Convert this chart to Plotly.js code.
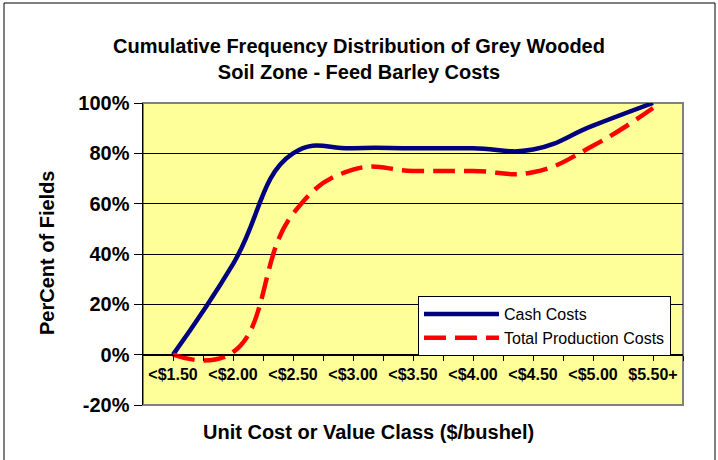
<!DOCTYPE html>
<html>
<head>
<meta charset="utf-8">
<script src="https://cdn.plot.ly/plotly-3.0.1.min.js"></script>
<style>
  html, body { margin: 0; padding: 0; background: #ffffff; }
  #chart { width: 718px; height: 460px; }
</style>
</head>
<body>
<div id="chart"></div>
<script>
// ---- data ----
const categories = ["<$1.50", "<$2.00", "<$2.50", "<$3.00", "<$3.50", "<$4.00", "<$4.50", "<$5.00", "$5.50+"];
const cashCosts = [0, 36, 80, 82, 82, 82, 81.5, 91, 100];
const totalProductionCosts = [0, 1, 56, 73.5, 73, 73, 72.5, 83, 98];
const seriesNames = ["Cash Costs", "Total Production Costs"];
const yTickValues = [-20, 0, 20, 40, 60, 80, 100];

const FONT = "Arial, 'Liberation Sans', sans-serif";
const xIdx = categories.map((_, i) => i);

// tick marks every half category; labels only on the categories
const xTickVals = [];
const xTickText = [];
for (let i = 0; i < categories.length; i++) {
  xTickVals.push(i);
  xTickText.push("<b>" + categories[i] + "</b>");
  if (i < categories.length - 1) { xTickVals.push(i + 0.5); xTickText.push(""); }
}
xTickVals.push(categories.length - 0.5); xTickText.push("");

const traces = [
  {
    x: xIdx, y: cashCosts, name: seriesNames[0], type: "scatter", mode: "lines",
    line: { color: "#000080", width: 4.5, shape: "spline", smoothing: 1.3 }
  },
  {
    x: xIdx, y: totalProductionCosts, name: seriesNames[1], type: "scatter", mode: "lines",
    line: { color: "#FF0000", width: 4.5, shape: "spline", smoothing: 1.3, dash: "22px,9px" }
  }
];

const L = 143, R = 35, T = 103, B = 55;
const PW = 718 - L - R, PH = 460 - T - B;
const px = v => (v - L) / PW;
const py = v => (460 - B - v) / PH;

const layout = {
  width: 718, height: 460,
  margin: { l: L, r: R, t: T, b: B, pad: 0 },
  paper_bgcolor: "#ffffff",
  plot_bgcolor: "#FFFF99",
  font: { family: FONT, color: "#000000" },
  showlegend: true,
  title: {
    text: "<b>Cumulative Frequency Distribution of Grey Wooded<br>Soil Zone - Feed Barley Costs</b>",
    font: { family: FONT, size: 20, color: "#000000" },
    x: 0.5, xref: "container", xanchor: "center",
    y: 1 - 53 / 460, yref: "container", yanchor: "top"
  },
  xaxis: {
    type: "linear",
    range: [-0.5, categories.length - 0.5],
    anchor: "free",
    position: (0 - (-20)) / 120,
    tickmode: "array", tickvals: xTickVals, ticktext: xTickText,
    ticks: "outside", ticklen: 5, tickcolor: "#000000", tickwidth: 1,
    tickfont: { family: FONT, size: 16, color: "#000000" },
    showline: true, linecolor: "#000000", linewidth: 1,
    showgrid: false, zeroline: false, fixedrange: true
  },
  yaxis: {
    range: [-20, 100],
    tickmode: "array", tickvals: yTickValues,
    ticktext: yTickValues.map(v => "<b>" + v + "%</b>"),
    ticks: "outside", ticklen: 8, tickcolor: "#000000", tickwidth: 1,
    tickfont: { family: FONT, size: 20, color: "#000000" },
    showline: true, linecolor: "#000000", linewidth: 1.5,
    showgrid: true, gridcolor: "#000000", gridwidth: 1,
    zeroline: false, fixedrange: true
  },
  legend: {
    x: px(418), y: py(296), xanchor: "left", yanchor: "top",
    bgcolor: "#ffffff", bordercolor: "#000000", borderwidth: 1,
    font: { family: FONT, size: 16, color: "#000000" },
    itemwidth: 75,
    tracegroupgap: 0
  },
  annotations: [
    {
      text: "<b>Unit Cost or Value Class ($/bushel)</b>",
      xref: "paper", yref: "paper", x: px(368), y: py(432),
      xanchor: "center", yanchor: "middle", showarrow: false,
      font: { family: FONT, size: 20, color: "#000000" }
    },
    {
      text: "<b>PerCent of Fields</b>",
      xref: "paper", yref: "paper", x: px(47), y: py(253),
      xanchor: "center", yanchor: "middle", showarrow: false, textangle: -90,
      font: { family: FONT, size: 20, color: "#000000" }
    }
  ],
  shapes: [
    { type: "rect", xref: "paper", yref: "paper", x0: 0, x1: 1, y0: 0, y1: 1,
      line: { color: "#808080", width: 2 }, layer: "below" },
    { type: "rect", xref: "paper", yref: "paper", x0: px(4), x1: px(715), y0: py(475), y1: py(3),
      line: { color: "#000000", width: 1 }, fillcolor: "rgba(0,0,0,0)" }
  ]
};

Plotly.newPlot("chart", traces, layout, { staticPlot: true, displayModeBar: false });
</script>
</body>
</html>
